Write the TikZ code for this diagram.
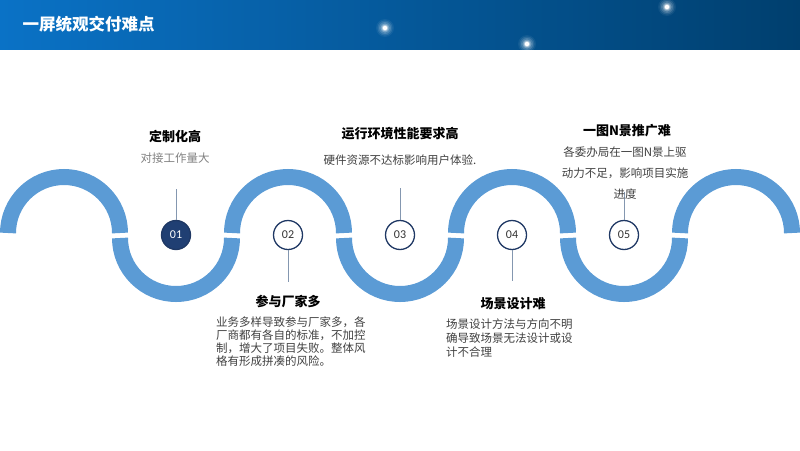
\documentclass[tikz,border=0pt]{standalone}
\usepackage{fontspec}
\setmainfont{Noto Sans CJK SC}
\newfontfamily\numfont{Carlito}
\usepackage{xcolor}
\usepackage{tikz}
\definecolor{band}{HTML}{5B9BD5}
\definecolor{navy}{HTML}{1F3864}
\definecolor{navyfill}{HTML}{203F73}
\definecolor{tickc}{HTML}{8497B0}
\definecolor{headl}{HTML}{0A72C6}
\definecolor{headr}{HTML}{003F6E}

\begin{document}
\begin{tikzpicture}[x=1pt,y=-1pt,
    wave/.style={band,line width=16pt},
    num/.style={circle,draw=navy,line width=1.3pt,fill=white,minimum size=29pt,inner sep=0pt,
      font=\numfont\fontsize{12}{12}\selectfont,text=black!80},
    head/.style={font=\bfseries\fontsize{13}{15}\selectfont,text=black},
    body/.style={font=\fontsize{11.5}{13}\selectfont,text=black!75,inner sep=0pt},
    tick/.style={draw=tickc,line width=0.8pt}]
    \useasboundingbox (0,0) rectangle (800,450);
    % title bar
    \shade[left color=headl,right color=headr] (0,0) rectangle (800,49);
    \begin{scope}
      \clip (0,0) rectangle (800,49);
      \foreach \gx/\gy in {385/28,667/7,527/44}
        \foreach \r/\o in {9/0.06,7.5/0.1,6/0.15,4.5/0.25,3.2/0.45,2.2/1}
          \fill[white,opacity=\o] (\gx,\gy) circle (\r);
    \end{scope}
    \node[font=\bfseries\fontsize{16.5}{18}\selectfont,text=white,anchor=west] (title) at (19,24) {一屏统观交付难点};
    % wave: upper halves end at y=233, lower halves start at y=238
    \foreach \cx in {64,288,512,736} \draw[wave] (\cx-56,233) arc (180:360:56);
    \foreach \cx in {176,400,624} \draw[wave] (\cx-56,238) arc (180:0:56);
    % step circles
    \node[num,fill=navyfill,text=white] (c1) at (176,235) {01};
    \node[num] (c2) at (288,235) {02};
    \node[num] (c3) at (400,235) {03};
    \node[num] (c4) at (512,235) {04};
    \node[num] (c5) at (624,235) {05};
    \coordinate (t1) at (176,189);
    \coordinate (t2) at (288,282);
    \coordinate (t3) at (400,188);
    \coordinate (t4) at (512,281);
    \coordinate (t5) at (624,192);
    \foreach \i in {1,3,5} \draw[tick] (c\i.north) -- (t\i);
    \foreach \i in {2,4} \draw[tick] (c\i.south) -- (t\i);
    % upper texts
    \node[head] (h1) at (175,136) {定制化高};
    \node[body,text=black!50] (d1) at (175,158) {对接工作量大};
    \node[head] (h3) at (400,134) {运行环境性能要求高};
    \node[body] (d3) at (400,160) {硬件资源不达标影响用户体验.};
    \node[head] (h5) at (627,131) {一图N景推广难};
    \node[body,align=center,font=\fontsize{11.5}{21}\selectfont] (d5) at (625,173)
      {各委办局在一图N景上驱\\动力不足，影响项目实施\\进度};
    % lower texts
    \node[head] (h2) at (288,301) {参与厂家多};
    \node[body,align=left,anchor=north west] (d2) at (216,317)
      {业务多样导致参与厂家多，各\\厂商都有各自的标准，不加控\\制，增大了项目失败。整体风\\格有形成拼凑的风险。};
    \node[head] (h4) at (513,304) {场景设计难};
    \node[body,align=left,anchor=north west,font=\fontsize{11.5}{14}\selectfont] (d4) at (446,319)
      {场景设计方法与方向不明\\确导致场景无法设计或设\\计不合理};
  \end{tikzpicture}
\end{document}
